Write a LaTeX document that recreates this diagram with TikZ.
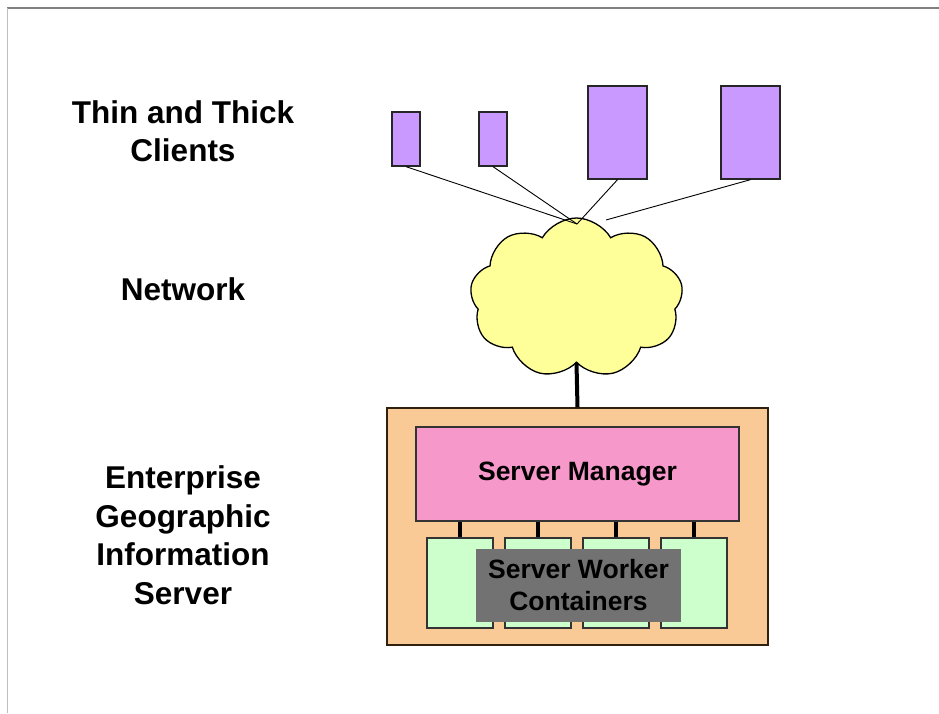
\documentclass[tikz,border=0pt]{standalone}
\usepackage{fontspec}
\setmainfont{Liberation Sans}
\usepackage{xcolor}
\usetikzlibrary{shapes.symbols}

\definecolor{clientviolet}{HTML}{C999FF}
\definecolor{netyellow}{HTML}{FFFF99}
\definecolor{serverpeach}{HTML}{FACA96}
\definecolor{managerpink}{HTML}{F798CB}
\definecolor{workergreen}{HTML}{CCFFCC}
\definecolor{overlaygray}{HTML}{727272}

\tikzset{
  tierlabel/.style={align=center, font=\bfseries\fontsize{31.5}{38.5}\selectfont},
  client/.style={draw=black!85, fill=clientviolet, line width=1.3pt, inner sep=0pt},
  boxlabel/.style={align=center, font=\bfseries\fontsize{26.5}{32}\selectfont},
  thinlink/.style={draw=black, line width=0.9pt},
  thicklink/.style={draw=black, line width=4pt}
}

\begin{document}
\begin{tikzpicture}[x=1pt,y=-1pt]
\useasboundingbox (0,0) rectangle (939,713);
% frame of the page
\draw[gray, line width=1.2pt] (7,8) -- (939,8);
\draw[black!25, line width=0.8pt] (7,8) -- (7,713);

% tier labels
\node[tierlabel] (lclients) at (183,131) {Thin and Thick\\Clients};
\node[tierlabel] (lnet) at (183,289) {Network};
\node[tierlabel] (lserver) at (183,535) {Enterprise\\Geographic\\Information\\Server};

% clients
\node[client, minimum width=28pt, minimum height=54pt] (c1) at (406,139) {};
\node[client, minimum width=28pt, minimum height=54pt] (c2) at (493,139) {};
\node[client, minimum width=59pt, minimum height=93pt] (c3) at (617.5,132.5) {};
\node[client, minimum width=59pt, minimum height=93pt] (c4) at (750.5,132.5) {};

% network
\node[cloud, cloud puffs=9, cloud puff arc=120, draw=black, fill=netyellow,
      line width=1.3pt, minimum width=213pt, minimum height=160pt,
      inner sep=0pt] (net) at (576.5,298) {};
\coordinate (hub) at (577,224);
\coordinate (hubr) at (606,220);
\draw[thinlink] (c1.south) -- (hub);
\draw[thinlink] (c2.south) -- (hub);
\draw[thinlink] (c3.south) -- (hub);
\draw[thinlink] (c4.south) -- (hubr);

% server
\node[draw=black!75!brown, fill=serverpeach, line width=1.3pt,
      minimum width=381pt, minimum height=237pt] (srv) at (577.5,526.5) {};
\draw[thicklink] (net.south) -- (srv.north);
\node[draw=black!80, fill=managerpink, line width=1.3pt,
      minimum width=323pt, minimum height=94pt, boxlabel] (mgr) at (577.5,474) {Server Manager};
\foreach \i/\x in {1/460,2/538,3/616,4/694}{
  \node[draw=black!80, fill=workergreen, line width=1.3pt,
        minimum width=66pt, minimum height=90pt] (w\i) at (\x,583) {};
  \draw[thicklink] (w\i.north) -- (w\i.north |- mgr.south);
}
\node[fill=overlaygray, minimum width=205pt, minimum height=73pt, inner sep=0pt,
      boxlabel] (cont) at (578.5,585.5) {Server Worker\\Containers};
\end{tikzpicture}
\end{document}
